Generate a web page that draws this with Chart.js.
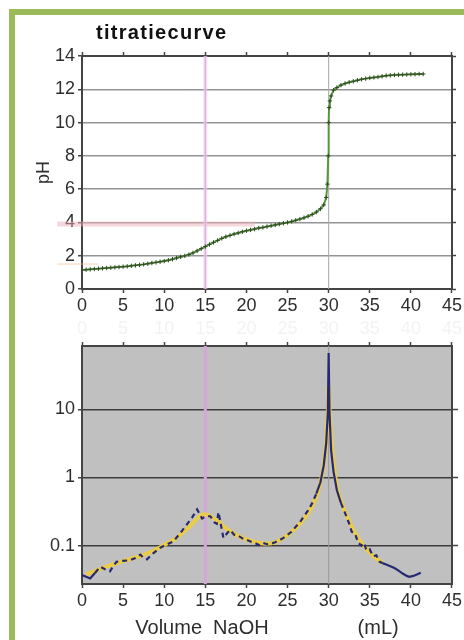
<!DOCTYPE html>
<html><head><meta charset="utf-8">
<script src="https://cdn.jsdelivr.net/npm/chart.js@4"></script>
<style>
html,body{margin:0;padding:0;background:#fff;}
#wrap{position:relative;width:464px;height:640px;overflow:hidden;}
#frame{position:absolute;left:9px;top:9px;width:600px;height:800px;border-left:6px solid #9bbb59;border-top:6px solid #9bbb59;}
#title{position:absolute;left:96px;top:21px;line-height:24px;font:bold 20px "Liberation Sans",Arial,sans-serif;letter-spacing:1.3px;color:#111;}
canvas{position:absolute;left:0;}
</style></head>
<body><div id="wrap"><div id="frame"></div>
<canvas id="c1" width="464" height="320" style="top:0"></canvas>
<canvas id="c2" width="464" height="320" style="top:320px"></canvas>
<div id="title">titratiecurve</div>
</div>
<script>
// ---- data ----
const phVolume = [0,0.5,1,1.5,2,2.5,3,3.5,4,4.5,5,5.5,6,6.5,7,7.5,8,8.5,9,9.5,10,10.5,11,11.5,12,12.5,13,13.5,14,14.5,15,15.5,16,16.5,17,17.5,18,18.5,19,19.5,20,20.5,21,21.5,22,22.5,23,23.5,24,24.5,25,25.5,26,26.5,27,27.5,28,28.5,29,29.4,29.7,29.85,29.95,30,30.05,30.15,30.3,30.6,31,31.5,32,32.5,33,33.5,34,34.5,35,35.5,36,36.5,37,37.5,38,38.5,39,39.5,40,40.5,41,41.5];
const phValues = [1.14,1.16,1.18,1.2,1.22,1.24,1.26,1.28,1.3,1.32,1.34,1.36,1.39,1.42,1.45,1.48,1.52,1.56,1.6,1.64,1.68,1.73,1.79,1.86,1.93,1.99,2.07,2.17,2.29,2.42,2.55,2.68,2.8,2.92,3.04,3.14,3.22,3.3,3.37,3.44,3.5,3.55,3.6,3.66,3.7,3.75,3.8,3.85,3.9,3.95,4.0,4.06,4.13,4.2,4.28,4.37,4.48,4.62,4.82,5.05,5.5,6.3,8,10,10.9,11.3,11.6,11.95,12.1,12.25,12.35,12.42,12.48,12.54,12.6,12.64,12.68,12.71,12.74,12.78,12.82,12.84,12.86,12.87,12.88,12.89,12.9,12.91,12.92,12.92];

const derivVolume = [0,0.5,1,1.6,2.2,2.8,3.4,3.8,4.2,5,5.8,6.5,7.1,7.5,7.9,8.7,9.5,10.3,11.1,11.9,12.7,13.4,14,14.6,15.1,15.6,16.1,16.4,16.6,16.9,17.2,17.6,18,18.5,19,19.5,20,20.5,21,21.5,22,22.5,23,23.5,24,24.5,25,25.5,26,26.5,27,27.5,28,28.5,29,29.4,29.7,29.9,30,30.1,30.3,30.6,31,31.5,32,32.5,32.8,33.2,33.6,34,34.3,34.6,35,35.4,35.8,36.2,36.6,37,37.5,38,38.5,39,39.5,39.8,40.3,40.8,41.2];
const derivValues = [0.037,0.035,0.033,0.04,0.049,0.045,0.042,0.05,0.058,0.06,0.061,0.066,0.074,0.066,0.063,0.078,0.093,0.104,0.115,0.15,0.2,0.26,0.34,0.25,0.27,0.27,0.22,0.21,0.31,0.2,0.13,0.15,0.17,0.145,0.14,0.128,0.122,0.115,0.11,0.102,0.11,0.105,0.107,0.112,0.12,0.13,0.145,0.16,0.19,0.22,0.27,0.33,0.42,0.58,0.85,1.5,3.2,9,67,9,2.5,1.2,0.65,0.42,0.3,0.21,0.16,0.15,0.11,0.1,0.11,0.085,0.088,0.07,0.072,0.058,0.055,0.053,0.05,0.047,0.043,0.039,0.036,0.035,0.036,0.038,0.04];

const smoothVolume = [0.5,1.5,2.5,3.5,4.5,5.5,6.5,7.5,8.5,9.5,10.5,11.5,12.5,13.5,14.3,14.9,15.5,16.5,17.5,18.5,19.5,20.5,21.5,22.5,23.5,24.5,25.5,26.5,27.5,28.3,28.9,29.4,29.7,29.9,30,30.1,30.3,30.6,31,31.5,32,32.5,33,33.5,34,34.5,35,35.5,36,36.6];
const smoothValues = [0.038,0.042,0.047,0.052,0.057,0.062,0.067,0.073,0.082,0.095,0.11,0.13,0.165,0.215,0.27,0.29,0.275,0.23,0.18,0.15,0.13,0.118,0.11,0.107,0.112,0.13,0.16,0.21,0.3,0.45,0.75,1.5,3.5,10,22,11,4,1.6,0.75,0.45,0.31,0.23,0.17,0.135,0.11,0.092,0.08,0.07,0.062,0.055];

const volumeRange = [0, 45];
const phRange = [0, 14];
const logRange = [0.0274, 84.8];
const logTicks = [0.1, 1, 10];
const guideVolumes = [15, 30];          // half-equivalence and equivalence volume
const refPH = [3.9, 1.5];               // horizontal reference lines
const refPHFrom = [-3, -3];
const refPHTo = [21, 2];

// ---- helpers ----
const fam = '"Liberation Sans", Arial, Helvetica, sans-serif';
const font = {family: fam, size: 18};
const txt = '#2e2e2e';
const axisColor = '#444';
const pts = (xs, ys) => xs.map((x, i) => ({x, y: ys[i]}));
const fixW = w => s => { s.width = w; };
const fixH = h => s => { s.height = h; };
const setLogTicks = s => { s.ticks = logTicks.map(v => ({value: v})); };
const border = {color: axisColor, width: 2};

const plotBg = {
  id: 'plotBg',
  beforeDraw(chart, args, opts) {
    if (!opts || !opts.color) return;
    const {ctx, chartArea: a} = chart;
    ctx.save(); ctx.fillStyle = opts.color;
    ctx.fillRect(a.left, a.top, a.width, a.height); ctx.restore();
  }
};

const vline = (x, range, color, width) => ({
  data: [{x, y: range[0]}, {x, y: range[1]}],
  borderColor: color, borderWidth: width, pointRadius: 0, order: 5
});

// ---- top chart: titration curve ----
new Chart(document.getElementById('c1'), {
  type: 'line',
  data: {datasets: [
    {label: 'pH', data: pts(phVolume, phValues), borderColor: '#5a973c', borderWidth: 2,
     pointStyle: 'cross', pointRadius: 2.2, pointBorderColor: '#2f4a26', pointBorderWidth: 1, order: 0},
    vline(guideVolumes[0], phRange, 'rgba(240,210,240,0.6)', 4),
    vline(guideVolumes[0], phRange, '#cf6fcf', 1.5),
    vline(guideVolumes[1], phRange, '#a8a8a8', 1),
    {data: [{x: refPHFrom[0], y: refPH[0]}, {x: refPHTo[0], y: refPH[0]}], borderColor: 'rgba(238,175,185,0.5)',
     borderWidth: 5, pointRadius: 0, clip: false, order: 6},
    {data: [{x: refPHFrom[1], y: refPH[1]}, {x: refPHTo[1], y: refPH[1]}], borderColor: 'rgba(240,190,150,0.7)',
     borderWidth: 1, pointRadius: 0, clip: false, order: 6}
  ]},
  options: {
    responsive: false, animation: false, events: [],
    plugins: {legend: {display: false}, tooltip: {enabled: false}},
    layout: {padding: 0},
    scales: {
      x: {type: 'linear', position: 'bottom', min: volumeRange[0], max: volumeRange[1],
          ticks: {stepSize: 5, font, color: txt, padding: 2},
          grid: {drawOnChartArea: false, tickLength: 4, tickColor: axisColor, tickWidth: 1.5},
          border, afterFit: fixH(31)},
      x2: {type: 'linear', position: 'top', min: volumeRange[0], max: volumeRange[1],
          ticks: {stepSize: 5, display: false},
          grid: {drawOnChartArea: false, tickLength: 4, tickColor: axisColor, tickWidth: 1.5},
          border, afterFit: fixH(56)},
      y: {type: 'linear', position: 'left', min: phRange[0], max: phRange[1],
          ticks: {stepSize: 2, font, color: txt, padding: 3},
          grid: {color: '#949494', lineWidth: 1.5, tickLength: 4, tickColor: axisColor},
          border,
          title: {display: true, text: 'pH', font, color: txt, padding: {top: 33, bottom: 0}},
          afterFit: fixW(82)},
      y2: {type: 'linear', position: 'right', min: phRange[0], max: phRange[1],
          ticks: {stepSize: 2, display: false},
          grid: {drawOnChartArea: false, tickLength: 4, tickColor: axisColor, tickWidth: 1.5},
          border, afterFit: fixW(12)}
    }
  }
});

// ---- bottom chart: derivative (log) ----
const overlap = x => (x >= 1.6 && x < 28.5) || (x >= 31.5 && x < 36.6);
new Chart(document.getElementById('c2'), {
  type: 'line',
  plugins: [plotBg],
  data: {datasets: [
    {label: 'dpH/dV', data: pts(derivVolume, derivValues), borderColor: '#272a70', borderWidth: 2.2,
     pointRadius: 0, tension: 0, order: 0,
     segment: {borderDash: c => overlap(c.p0.parsed.x) ? [5, 4] : undefined}},
    {label: 'smoothed', data: pts(smoothVolume, smoothValues), borderColor: 'rgba(240,205,60,0.9)', borderWidth: 4,
     pointRadius: 0, cubicInterpolationMode: 'monotone', order: 1},
    vline(guideVolumes[0], logRange, '#d8a4dc', 3),
    vline(guideVolumes[1], logRange, '#9a9a9a', 1)
  ]},
  options: {
    responsive: false, animation: false, events: [],
    plugins: {legend: {display: false}, tooltip: {enabled: false}, plotBg: {color: '#c0c0c0'}},
    layout: {padding: 0},
    scales: {
      x: {type: 'linear', position: 'bottom', min: volumeRange[0], max: volumeRange[1],
          ticks: {stepSize: 5, font, color: txt, padding: 2},
          grid: {drawOnChartArea: false, tickLength: 4, tickColor: axisColor, tickWidth: 1.5},
          border,
          title: {display: true, text: 'Volume  NaOH                (mL)', font: {family: fam, size: 20}, color: txt, padding: {top: 0, bottom: 0}},
          afterFit: fixH(56)},
      x2: {type: 'linear', position: 'top', min: volumeRange[0], max: volumeRange[1],
          ticks: {stepSize: 5, font, color: '#f3f3f3', padding: 2},
          grid: {drawOnChartArea: false, tickLength: 4, tickColor: axisColor, tickWidth: 1.5},
          border, afterFit: fixH(26)},
      y: {type: 'logarithmic', position: 'left', min: logRange[0], max: logRange[1],
          afterBuildTicks: setLogTicks,
          ticks: {font, color: txt, padding: 3, callback: v => String(v)},
          grid: {color: '#3c3c3c', lineWidth: 1.5, tickLength: 4, tickColor: axisColor},
          border, afterFit: fixW(82)},
      y2: {type: 'logarithmic', position: 'right', min: logRange[0], max: logRange[1],
          afterBuildTicks: setLogTicks,
          ticks: {display: false},
          grid: {drawOnChartArea: false, tickLength: 6, tickColor: axisColor, tickWidth: 1.5},
          border, afterFit: fixW(12)}
    }
  }
});
</script>
</body></html>
